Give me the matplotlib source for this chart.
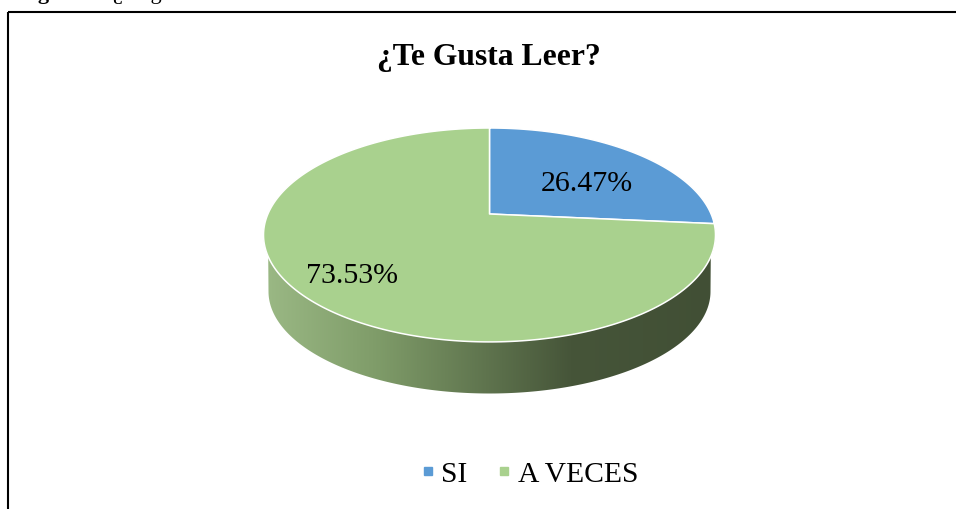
import numpy as np
import matplotlib
matplotlib.use('Agg')
import matplotlib.pyplot as plt
from matplotlib.colors import LinearSegmentedColormap
from matplotlib.lines import Line2D
from matplotlib.patches import Polygon, Rectangle

categories = ['SI', 'A VECES']
values = [26.47, 73.53]
colors = ['#5B9BD5', '#A9D18E']

plt.rcParams['font.family'] = ['Liberation Serif', 'DejaVu Serif']

fig = plt.figure(figsize=(9.56, 5.10), dpi=100)
ax = fig.add_axes([0, 0, 1, 1])
ax.set_xlim(0, 956)
ax.set_ylim(510, 0)
ax.axis('off')

# pie seen in perspective, circle coords -> pixels
cx = 489.5
R = 221.6
cy = 214.0
a = -60.9
c = 0.196
yshift = 1.0


def project(t):
    u = np.sin(t)
    v = np.cos(t)
    w = 1 + c * v
    return np.column_stack([cx + R * u / w, (a * v + cy) / w + yshift])


# frame, runs off the right and bottom of the crop
ax.add_patch(Rectangle((8.5, 12.5), 1000, 600, fill=False, ec='black', lw=1.5, zorder=1))

# caption cut off by the top of the picture
ax.text(18, -1.5, 'Figura 4.', fontsize=16, fontweight='bold', va='baseline', ha='left', clip_on=False)
ax.text(113, -1.5, '¿Te gusta leer?', fontsize=16, va='baseline', ha='left', clip_on=False)

# side of the pie
tt = np.linspace(np.pi / 2, 3 * np.pi / 2, 200)
top_low = project(tt)
bx = 489.5 + 221 * np.sin(tt)
by = 292.5 - 102 * np.cos(tt)
side = np.vstack([top_low, np.column_stack([bx, by])[::-1]])
side_patch = Polygon(side, closed=True, fc='none', ec='none', zorder=2)
ax.add_patch(side_patch)
shade = LinearSegmentedColormap.from_list('side', [(0, '#9BB985'), (0.25, '#7F9C69'), (0.68, '#465539'), (1, '#414F35')])
img = ax.imshow(np.linspace(0, 1, 256)[None, :], cmap=shade, extent=[263, 716, 400, 230], aspect='auto', zorder=2)
img.set_clip_path(side_patch)
ax.set_xlim(0, 956)
ax.set_ylim(510, 0)

# top face
start = 0.0
fracs = np.array(values) / sum(values)
for frac, col in zip(fracs, colors):
    t = np.linspace(start, start + frac * 2 * np.pi, 300)
    pts = np.vstack([[cx, cy + yshift], project(t)])
    ax.add_patch(Polygon(pts, closed=True, fc=col, ec='white', lw=1.1, zorder=3, joinstyle='round'))
    start += frac * 2 * np.pi

ax.text(586.5, 184.5, f'{values[0]:.2f}%', fontsize=21.5, ha='center', va='center', color='black', zorder=4)
ax.text(352, 276.5, f'{values[1]:.2f}%', fontsize=21.5, ha='center', va='center', color='black', zorder=4)

ax.text(489, 57, '¿Te Gusta Leer?', fontsize=22.8, fontweight='bold', ha='center', va='center', zorder=4)

handles = [Line2D([], [], ls='none', marker='s', ms=6, mfc=col, mec=col) for col in colors]
ax.legend(handles, categories, ncol=2, loc='center', bbox_to_anchor=(525.5, 475), bbox_transform=ax.transData,
          frameon=False, fontsize=21.3, handletextpad=-0.05, columnspacing=0.75, handlelength=1.0, borderpad=0)

fig.savefig('out.png', dpi=100)
